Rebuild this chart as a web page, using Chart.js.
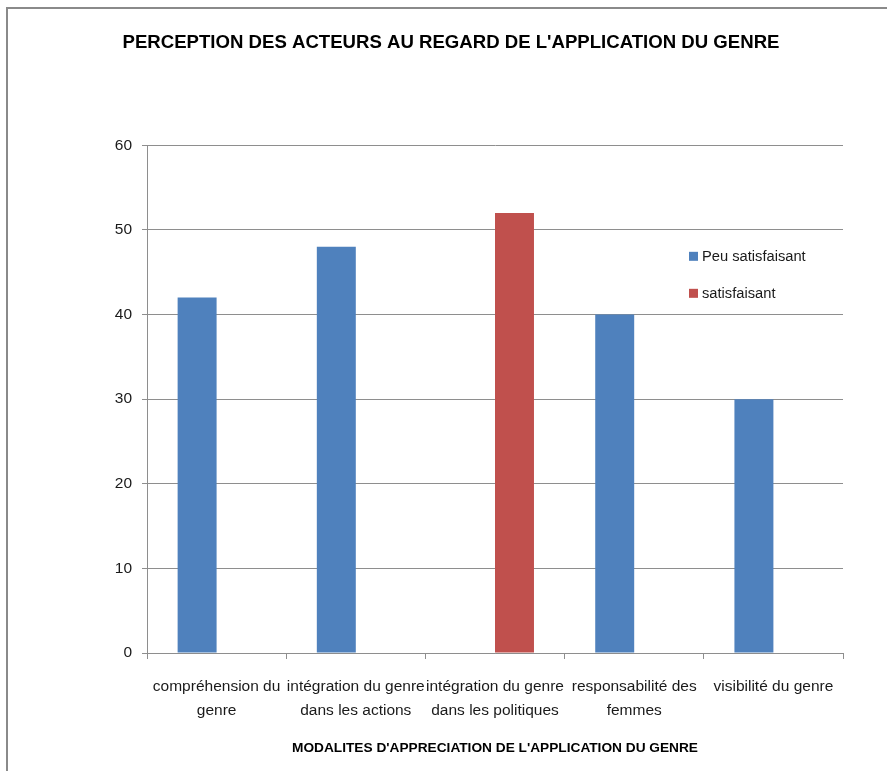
<!DOCTYPE html>
<html>
<head>
<meta charset="utf-8">
<script src="https://cdn.jsdelivr.net/npm/chart.js@4/dist/chart.umd.min.js"></script>
<style>
  html, body { margin: 0; padding: 0; background: #fff; }
  body { width: 887px; height: 771px; position: relative; overflow: hidden; }
  #frame { position: absolute; left: 6px; top: 7px; width: 1000px; height: 900px;
           border-left: 2px solid #8a8a8a; border-top: 2px solid #8a8a8a; }
  #wrap { position: absolute; left: 0; top: 0; width: 887px; height: 771px; }
</style>
</head>
<body>
<div id="frame"></div>
<div id="wrap"><canvas id="c" width="887" height="771"></canvas></div>
<script>
const chartTitle = "PERCEPTION DES ACTEURS AU REGARD DE L'APPLICATION DU GENRE";
const xAxisTitle = "MODALITES D'APPRECIATION DE L'APPLICATION DU GENRE";
const categories = [
  ["compréhension du", "genre"],
  ["intégration du genre", "dans les actions"],
  ["intégration du genre", "dans les politiques"],
  ["responsabilité des", "femmes"],
  ["visibilité du genre"]
];
const seriesNames = ["Peu satisfaisant", "satisfaisant"];
const peuSatisfaisant = [42, 48, null, 40, 30];
const satisfaisant = [null, null, 52, null, null];
const yTicks = [0, 10, 20, 30, 40, 50, 60];

const FONT = "'Liberation Sans', Arial, sans-serif";
const GRID = '#8e8e8e';

const legendPlugin = {
  id: 'insideLegend',
  afterDraw(chart) {
    const ctx = chart.ctx;
    const a = chart.chartArea;
    const x0 = a.right - 154;
    const ys = [a.top + 111, a.top + 148];
    ctx.save();
    ctx.font = '14.7px ' + FONT;
    ctx.textBaseline = 'middle';
    ctx.textAlign = 'left';
    chart.data.datasets.forEach((ds, i) => {
      ctx.fillStyle = ds.backgroundColor;
      ctx.fillRect(x0, ys[i] - 4.5, 9, 9);
      ctx.fillStyle = '#1a1a1a';
      ctx.fillText(ds.label, x0 + 13, ys[i] + 1);
    });
    ctx.restore();
  }
};

new Chart(document.getElementById('c'), {
  type: 'bar',
  data: {
    labels: categories,
    datasets: [
      { label: seriesNames[0], data: peuSatisfaisant, backgroundColor: '#4F81BD' },
      { label: seriesNames[1], data: satisfaisant, backgroundColor: '#C0504D' }
    ]
  },
  options: {
    responsive: false,
    animation: false,
    layout: { padding: { left: 59, right: 44, top: 0, bottom: 0 } },
    datasets: { bar: { categoryPercentage: 0.56, barPercentage: 1.0 } },
    plugins: {
      legend: { display: false },
      tooltip: { enabled: false },
      title: {
        display: true,
        text: chartTitle,
        color: '#000',
        font: { family: FONT, size: 18.6, weight: 'bold', lineHeight: 1.2 },
        padding: { top: 32, bottom: 91 }
      }
    },
    scales: {
      x: {
        grid: { display: true, drawOnChartArea: false, drawTicks: true, tickLength: 6, offset: true, color: GRID },
        border: { display: true, color: GRID, width: 1 },
        ticks: { color: '#1a1a1a', padding: 15, maxRotation: 0, autoSkip: false,
                 font: { family: FONT, size: 15.5, lineHeight: 1.6 } },
        title: { display: true, text: xAxisTitle, color: '#000',
                 font: { family: FONT, size: 13.7, weight: 'bold', lineHeight: 1.2 },
                 padding: { top: 0, bottom: 15 } },
        afterFit(scale) { scale.height = 118; }
      },
      y: {
        min: 0, max: 60,
        afterBuildTicks(scale) { scale.ticks = yTicks.map(v => ({ value: v })); },
        grid: { color: GRID, drawTicks: true, tickLength: 5 },
        border: { display: true, color: GRID, width: 1 },
        ticks: { color: '#1a1a1a', padding: 10, font: { family: FONT, size: 15.5 } },
        afterFit(scale) { scale.width = 88; }
      }
    }
  },
  plugins: [legendPlugin]
});
</script>
</body>
</html>
